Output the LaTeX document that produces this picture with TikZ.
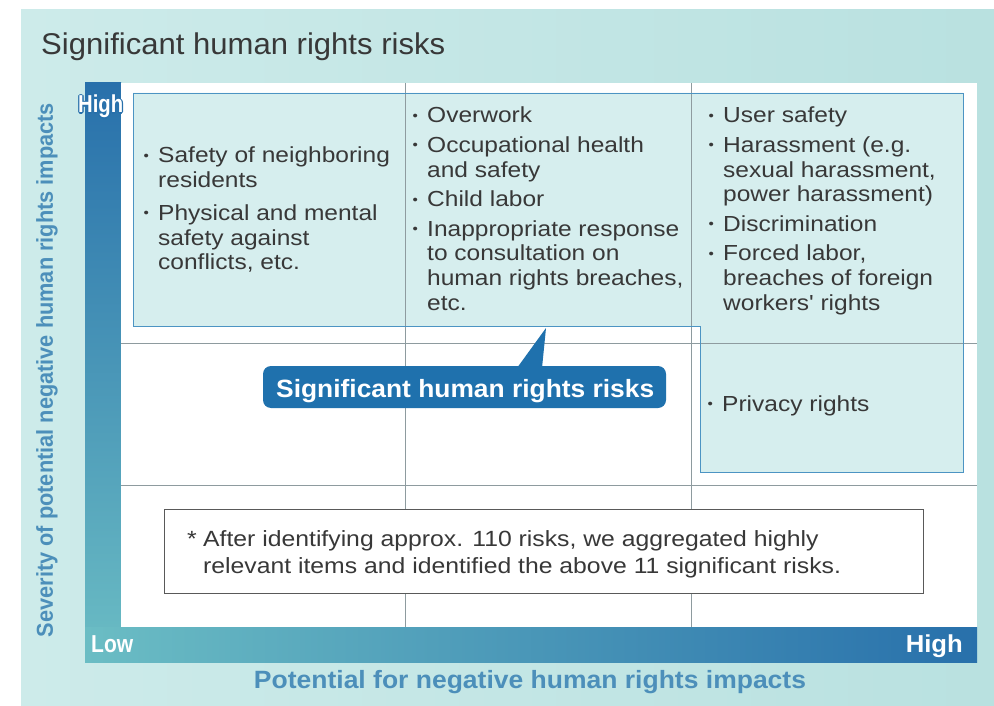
\documentclass[tikz,border=0pt]{standalone}
\usepackage{fontspec}
\usepackage{graphicx}
\setmainfont{Liberation Sans}
\newfontfamily\bodyfont[FakeStretch=1.125]{Liberation Sans}

\definecolor{panelA}{HTML}{CDEBEA}
\definecolor{panelB}{HTML}{B9E1E0}
\definecolor{barblue}{HTML}{2870AB}
\definecolor{barteal}{HTML}{6BBDC4}
\definecolor{hlfill}{HTML}{D6EEEE}
\definecolor{hlline}{HTML}{4C94C3}
\definecolor{gridc}{HTML}{8E9B9F}
\definecolor{calloutc}{HTML}{1F71AD}
\definecolor{ink}{HTML}{383838}
\definecolor{axisc}{HTML}{4C8FBA}

% round list bullet followed by a fixed indent
\newcommand\bul{\makebox[15pt][l]{\hspace{0.5pt}\raisebox{0.22ex}{\scalebox{0.62}{\char"2022}}}}

\begin{document}
\begin{tikzpicture}[x=1pt,y=-1pt,
  body/.style={font=\bodyfont\fontsize{21.8}{24.7}\selectfont, text=ink,
    inner sep=0pt, anchor=base west},
  barlabel/.style={font=\bfseries\fontsize{24.5}{28}\selectfont, text=white,
    inner sep=0pt, anchor=base west},
  gridline/.style={draw=gridc, line width=0.8pt},
  axislabel/.style={font=\bfseries\fontsize{23}{28}\selectfont, text=axisc, inner sep=0pt}]

\useasboundingbox (0,0) rectangle (994,706);
\fill[white] (0,0) rectangle (994,706);

% outer panel
\shade[left color=panelA, right color=panelB] (21,10) rectangle (994,706);

% axis bars
\shade[top color=barblue, bottom color=barteal] (85,83) rectangle (121,662);
\shade[left color=barteal, right color=barblue] (85,627) rectangle (977,662);

% plot area
\fill[white] (121,83) rectangle (977,627);

% highlighted (significant) region
\fill[hlfill] (133,93) -- (963,93) -- (963,472) -- (700,472) -- (700,326) -- (133,326) -- cycle;

% grid
\draw[gridline] (405,83) -- (405,627);
\draw[gridline] (691,83) -- (691,627);
\draw[gridline] (121,343) -- (977,343);
\draw[gridline] (121,485) -- (977,485);

\draw[hlline, line width=0.9pt] (133,93) -- (963,93) -- (963,472) -- (700,472) -- (700,326) -- (133,326) -- cycle;

% title
\node[anchor=base west, inner sep=0pt, font=\fontsize{30}{36}\selectfont, text=ink] (title)
  at (41,55) {\resizebox{404pt}{\height}{Significant human rights risks}};

% axis end labels (the upper one gets a blue outline where it overhangs the bar)
\foreach \a in {0,45,...,315}
  \node[barlabel, text=barblue] at ({78+1.2*cos(\a)},{113+1.2*sin(\a)})
    {\resizebox{45pt}{\height}{High}};
\node[barlabel] (yhigh) at (78,113) {\resizebox{45pt}{\height}{High}};
\node[barlabel] (xlow) at (91,652) {\resizebox{42pt}{\height}{Low}};
\node[barlabel, anchor=base east] (xhigh) at (963,652) {\resizebox{57pt}{\height}{High}};

% axis titles
\node[axislabel, rotate=90] (ylab) at (47,370)
  {\resizebox{534pt}{\height}{Severity of potential negative human rights impacts}};
\node[axislabel, anchor=base, font=\bfseries\fontsize{25}{30}\selectfont] (xlab) at (530,688)
  {\resizebox{552pt}{\height}{Potential for negative human rights impacts}};

% risk items
\node[body] (col1) at (143,163) {\begin{tabular}[t]{@{}l@{}l@{}}
  \bul & Safety of neighboring\\
       & residents\\[8pt]
  \bul & Physical and mental\\
       & safety against\\
       & conflicts, etc.
\end{tabular}};

\node[body] (col2) at (412,123) {\begin{tabular}[t]{@{}l@{}l@{}}
  \bul & Overwork\\[4.8pt]
  \bul & Occupational health\\
       & and safety\\[4.8pt]
  \bul & Child labor\\[4.8pt]
  \bul & Inappropriate response\\
       & to consultation on\\
       & human rights breaches,\\
       & etc.
\end{tabular}};

\node[body] (col3) at (708,123) {\begin{tabular}[t]{@{}l@{}l@{}}
  \bul & User safety\\[4.8pt]
  \bul & Harassment (e.g.\\
       & sexual harassment,\\
       & power harassment)\\[4.8pt]
  \bul & Discrimination\\[4.8pt]
  \bul & Forced labor,\\
       & breaches of foreign\\
       & workers' rights
\end{tabular}};

\node[body] (privacy) at (707,411) {\bul Privacy rights};

% callout
\fill[calloutc, rounded corners=8pt] (263,366) rectangle (666,408);
\fill[calloutc] (517,368) -- (546,328) -- (542,368) -- cycle;
\node[font=\bfseries\fontsize{25}{30}\selectfont, text=white, inner sep=0pt, anchor=base west]
  (callout) at (276,397) {\resizebox{378pt}{\height}{Significant human rights risks}};

% footnote box
\draw[draw=black!65, fill=white, line width=0.8pt] (164,509) rectangle (923,593);
\node[body, font=\bodyfont\fontsize{22}{27}\selectfont] (note) at (187,546) {\begin{tabular}[t]{@{}l@{}l@{}}
  \makebox[16pt][l]{*} & After identifying approx. 110 risks, we aggregated highly\\
   & relevant items and identified the above 11 significant risks.
\end{tabular}};

\end{tikzpicture}
\end{document}
